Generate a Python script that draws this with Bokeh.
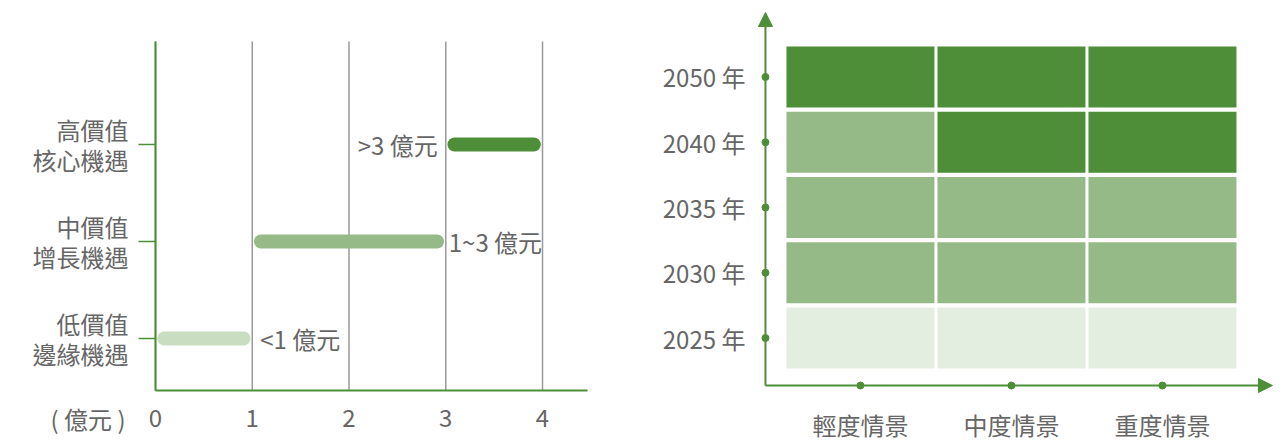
from bokeh.plotting import figure
from bokeh.layouts import row
from bokeh.models import Range1d, FixedTicker, Arrow, NormalHead, ColumnDataSource
from bokeh.embed import file_html
from bokeh.resources import INLINE
from bokeh.core.properties import value

FONT = "Noto Sans CJK TC"
TEXT = "#666666"
GREEN = "#4e8e38"
GRID = "#9a9a9a"
FS = "24px"

# ---------------- data ----------------
value_levels = ["低價值\n邊緣機遇", "中價值\n增長機遇", "高價值\n核心機遇"]
range_start = [0, 1, 3]
range_end = [1, 3, 4]
range_labels = ["<1 億元", "1~3 億元", ">3 億元"]
amount_ticks = [0, 1, 2, 3, 4]
amount_unit = "( 億元 )"

years = ["2025 年", "2030 年", "2035 年", "2040 年", "2050 年"]
scenarios = ["輕度情景", "中度情景", "重度情景"]
# value level per year (rows) and scenario (columns): 1 low, 2 mid, 3 high
levels = [
    [1, 1, 1],
    [2, 2, 2],
    [2, 2, 2],
    [2, 3, 3],
    [3, 3, 3],
]

bar_colors = ["#c9ddc1", "#96ba87", "#4e8e38"]
heat_colors = {1: "#e3ede0", 2: "#96ba87", 3: "#4e8e38"}


def style_axis(ax):
    ax.major_label_text_font = FONT
    ax.major_label_text_font_size = FS
    ax.major_label_text_color = TEXT
    ax.minor_tick_line_color = None


# ---------------- left chart ----------------
X_LO, X_HI = 0, 4.47          # extent of the x axis line
Y_LO, Y_HI = -0.536, 3.062    # extent of the y axis line
p1 = figure(width=620, height=441, x_range=Range1d(-1.602, 4.806), y_range=Range1d(-1.062, 3.485),
            output_backend="svg", toolbar_location=None, min_border=0)
p1.outline_line_color = None
p1.grid.visible = False

# vertical grid lines at the amount ticks
p1.segment(x0=amount_ticks, y0=[Y_LO] * len(amount_ticks), x1=amount_ticks, y1=[Y_HI] * len(amount_ticks),
           line_color=GRID, line_width=1.5)

p1.xaxis.fixed_location = Y_LO
p1.xaxis.bounds = (X_LO, X_HI)
p1.xaxis.ticker = FixedTicker(ticks=amount_ticks)
p1.xaxis.axis_line_color = GREEN
p1.xaxis.axis_line_width = 2
p1.xaxis.major_tick_line_color = None
p1.xaxis.major_label_standoff = 13
style_axis(p1.xaxis)

p1.yaxis.fixed_location = 0
p1.yaxis.bounds = (Y_LO, Y_HI)
p1.yaxis.ticker = FixedTicker(ticks=list(range(len(value_levels))))
p1.yaxis.major_label_overrides = {i: lab for i, lab in enumerate(value_levels)}
p1.yaxis.axis_line_color = GREEN
p1.yaxis.axis_line_width = 2
p1.yaxis.major_tick_out = 17
p1.yaxis.major_tick_in = 0
p1.yaxis.major_tick_line_color = GREEN
p1.yaxis.major_tick_line_width = 1.5
p1.yaxis.major_label_standoff = 10
p1.yaxis.major_label_text_line_height = 0.86
style_axis(p1.yaxis)

inset = 0.09
idx = list(range(len(value_levels)))
bars = ColumnDataSource(dict(
    x0=[s + inset for s in range_start],
    x1=[e - inset for e in range_end],
    y=idx, color=bar_colors))
p1.segment("x0", "y", "x1", "y", source=bars, line_width=14, line_cap="round", line_color="color")

lab_src = ColumnDataSource(dict(
    x=[range_end[0], range_end[1], range_start[2]],
    y=idx, text=range_labels,
    align=["left", "left", "right"], off=[8, 3, -8]))
p1.text("x", "y", text="text", source=lab_src, text_align="align", x_offset="off",
        text_baseline="middle", text_font=value(FONT), text_font_size=FS, text_color=TEXT)

p1.text(x=[-0.31], y=[-0.825], text=[amount_unit], text_align="right", text_baseline="middle",
        text_font=value(FONT), text_font_size=FS, text_color=TEXT)

# ---------------- right chart ----------------
OX, OY = -0.629, -0.728       # axes origin
TIP_X, TIP_Y = 2.728, 4.989   # arrow tips
p2 = figure(width=667, height=441, x_range=Range1d(-1.589, 2.828), y_range=Range1d(-1.586, 5.172),
            output_backend="svg", toolbar_location=None, min_border=0)
p2.outline_line_color = None
p2.grid.visible = False

cx, cy, cc = [], [], []
for r, yr in enumerate(years):
    for c, sc in enumerate(scenarios):
        cx.append(c)
        cy.append(r)
        cc.append(heat_colors[levels[r][c]])
p2.rect(cx, cy, width=0.98, height=0.935, fill_color=cc, line_color=None)

p2.xaxis.fixed_location = OY
p2.xaxis.ticker = FixedTicker(ticks=list(range(len(scenarios))))
p2.xaxis.major_label_overrides = {i: s for i, s in enumerate(scenarios)}
p2.yaxis.fixed_location = OX
p2.yaxis.ticker = FixedTicker(ticks=list(range(len(years))))
p2.yaxis.major_label_overrides = {i: s for i, s in enumerate(years)}
for ax in (p2.xaxis, p2.yaxis):
    ax.axis_line_color = None
    ax.major_tick_line_color = None
    style_axis(ax)
p2.xaxis.major_label_standoff = 15
p2.yaxis.major_label_standoff = 14

p2.add_layout(Arrow(end=NormalHead(size=14, fill_color=GREEN, line_color=GREEN),
                    x_start=OX, y_start=OY, x_end=OX, y_end=TIP_Y,
                    line_color=GREEN, line_width=2))
p2.add_layout(Arrow(end=NormalHead(size=14, fill_color=GREEN, line_color=GREEN),
                    x_start=OX, y_start=OY, x_end=TIP_X, y_end=OY,
                    line_color=GREEN, line_width=2))
p2.scatter([OX] * len(years), list(range(len(years))), size=7, color=GREEN)
p2.scatter(list(range(len(scenarios))), [OY] * len(scenarios), size=7, color=GREEN)

layout = row(p1, p2)
open("out.html", "w").write(file_html(layout, INLINE))
